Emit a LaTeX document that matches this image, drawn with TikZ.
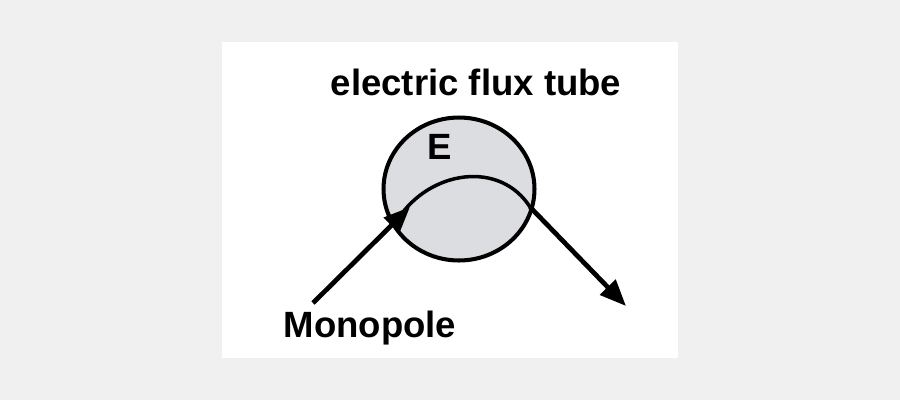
\documentclass[tikz,border=0pt]{standalone}
\usepackage{fontspec}
\setmainfont{Liberation Sans}
\usetikzlibrary{arrows.meta,shapes.geometric}
\definecolor{bg}{HTML}{F0F0F0}
\definecolor{tube}{HTML}{DCDDE0}
\begin{document}
\begin{tikzpicture}[x=0.02cm,y=-0.02cm,
  lbl/.style={font=\fontsize{20.8}{24}\selectfont\bfseries,inner sep=0pt},
  traj/.style={line width=2.7pt,-{Triangle[length=15pt,width=12pt]}}]
\fill[bg] (0,0) rectangle (900,400);
\useasboundingbox (0,0) rectangle (900,400);
\fill[white] (222,42) rectangle (678,358);
\node[draw,line width=2.3pt,fill=tube,ellipse,minimum width=3.02cm,minimum height=2.86cm,inner sep=0pt] (tube) at (459,189) {};
\node[lbl] (title) at (476,82) {electric flux tube};
\node[lbl] (E) at (440,147) {E};
\node[lbl] (mono) at (370,328) {Monopole};
\coordinate (start) at (313,303);
\coordinate (in) at (410,207);
\coordinate (out) at (530,207);
\coordinate (end) at (626,306);
\draw[traj] (start) -- (in);
\draw[line width=2pt] (398,219) .. controls (430,170) and (500,160) .. (out);
\draw[traj] (out) -- (end);
\end{tikzpicture}
\end{document}
